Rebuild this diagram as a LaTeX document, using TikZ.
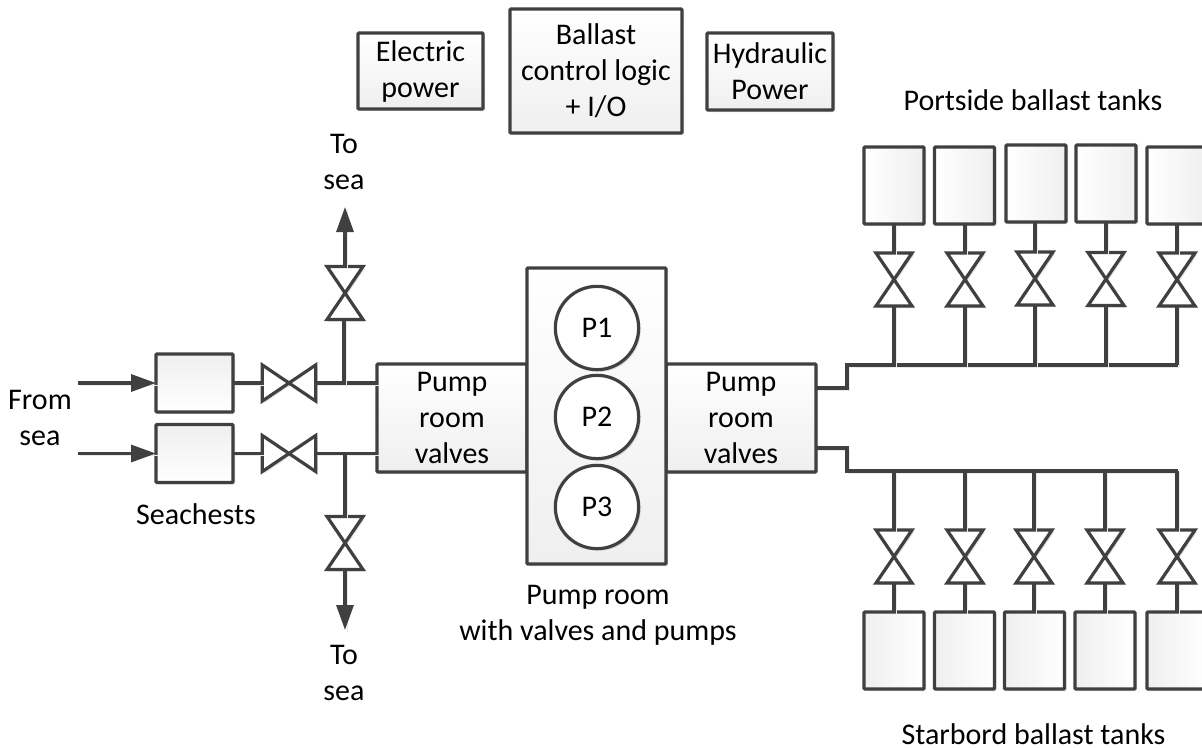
\documentclass[tikz,border=0pt]{standalone}
\usepackage{fontspec}
\setmainfont{Carlito}
\usetikzlibrary{arrows.meta,shadows}
\definecolor{ink}{HTML}{404040}
\definecolor{shade}{HTML}{EFEFEF}
\makeatletter
\pgfdeclareshape{vertvalve}{%
  \inheritsavedanchors[from=rectangle]
  \inheritanchorborder[from=rectangle]
  \inheritanchor[from=rectangle]{center}
  \inheritanchor[from=rectangle]{north}
  \inheritanchor[from=rectangle]{south}
  \inheritanchor[from=rectangle]{east}
  \inheritanchor[from=rectangle]{west}
  \backgroundpath{%
    \southwest\pgf@xa=\pgf@x\pgf@ya=\pgf@y
    \northeast\pgf@xb=\pgf@x\pgf@yb=\pgf@y
    \pgfpathmoveto{\pgfqpoint{\pgf@xa}{\pgf@ya}}%
    \pgfpathlineto{\pgfqpoint{\pgf@xb}{\pgf@ya}}%
    \pgfpathlineto{\pgfqpoint{\pgf@xa}{\pgf@yb}}%
    \pgfpathlineto{\pgfqpoint{\pgf@xb}{\pgf@yb}}%
    \pgfpathclose}}
\pgfdeclareshape{horizvalve}{%
  \inheritsavedanchors[from=rectangle]
  \inheritanchorborder[from=rectangle]
  \inheritanchor[from=rectangle]{center}
  \inheritanchor[from=rectangle]{north}
  \inheritanchor[from=rectangle]{south}
  \inheritanchor[from=rectangle]{east}
  \inheritanchor[from=rectangle]{west}
  \backgroundpath{%
    \southwest\pgf@xa=\pgf@x\pgf@ya=\pgf@y
    \northeast\pgf@xb=\pgf@x\pgf@yb=\pgf@y
    \pgfpathmoveto{\pgfqpoint{\pgf@xa}{\pgf@ya}}%
    \pgfpathlineto{\pgfqpoint{\pgf@xa}{\pgf@yb}}%
    \pgfpathlineto{\pgfqpoint{\pgf@xb}{\pgf@ya}}%
    \pgfpathlineto{\pgfqpoint{\pgf@xb}{\pgf@yb}}%
    \pgfpathclose}}
\makeatother
\tikzset{
  softshadow/.style={drop shadow={shadow xshift=1.5pt,shadow yshift=-1.5pt,opacity=.12,fill=black}},
  box/.style={draw=ink,line width=2.4pt,rounded corners=0.6pt,outer sep=0pt,inner sep=0pt,align=center,
    softshadow},
  ctrlbox/.style={box,top color=white,bottom color=shade},
  chest/.style={box,top color=shade,bottom color=white,minimum width=57.75pt,minimum height=43.5pt},
  porttank/.style={box,left color=white,right color=shade,minimum width=45pt,minimum height=57.75pt},
  starbtank/.style={box,left color=shade,right color=white,minimum width=45pt,minimum height=57.75pt},
  pumpcirc/.style={circle,draw=ink,line width=2.4pt,fill=white,outer sep=0pt,inner sep=0pt,minimum size=62.5pt,softshadow},
  valveV/.style={vertvalve,draw=ink,line width=2.4pt,fill=white,outer sep=0pt,inner sep=0pt,
    minimum width=27pt,minimum height=39.75pt,line join=miter,softshadow},
  valveH/.style={horizvalve,draw=ink,line width=2.4pt,fill=white,outer sep=0pt,inner sep=0pt,
    minimum width=40pt,minimum height=27pt,line join=miter,softshadow},
  label/.style={align=center,inner sep=0pt,text=black},
  pipe/.style={draw=ink,line width=2.4pt,line join=miter,
    preaction={draw=black!8,arrows=-,transform canvas={shift={(1.5pt,-1.5pt)}}}},
  flow/.style={pipe,-{Triangle[length=18.75pt,width=12.75pt]}},
}
\begin{document}
\begin{tikzpicture}[x=0.75pt,y=-0.75pt,font=\fontsize{22.5}{27}\selectfont]
\useasboundingbox (0,0) rectangle (1202,747);
\clip (0,0) rectangle (1202,747);
% Top boxes
\node[ctrlbox,minimum width=93.75pt,minimum height=57pt] (elec) at (420.5,71) {Electric\\power};
\node[ctrlbox,minimum width=129pt,minimum height=93pt] (logic) at (596,71) {Ballast\\control logic\\+ I/O};
\node[ctrlbox,minimum width=94.5pt,minimum height=57.75pt] (hyd) at (770,71.5) {Hydraulic\\Power};
% Labels
\node[label] (tosea1) at (344,162) {To\\sea};
\node[label] (tosea2) at (344,673) {To\\sea};
\node[label] (fromsea) at (40,418) {From\\sea};
\node[label] (chests) at (196,514) {Seachests};
\node[label] (port) at (1033,100) {Portside ballast tanks};
\node[label] (starb) at (1033.5,734) {Starbord ballast tanks};
\node[label] (proom) at (598,615) {Pump room\\with valves and pumps};
% Seachests and inlet valves
\node[chest] (s1) at (194.5,383) {};
\node[chest] (s2) at (194.5,453.5) {};
\node[valveH] (hv1) at (289,383) {};
\node[valveH] (hv2) at (289,453.5) {};
% Pump room
\node[ctrlbox,minimum width=112.5pt,minimum height=81pt] (plv) at (452,418) {Pump\\room\\valves};
\node[ctrlbox,minimum width=112.5pt,minimum height=81pt] (prv) at (741,418) {Pump\\room\\valves};
\node[ctrlbox,minimum width=104.25pt,minimum height=222pt] (room) at (596.5,416) {};
\node[pumpcirc] (p1) at (597,328) {P1};
\node[pumpcirc] (p2) at (597,417) {P2};
\node[pumpcirc] (p3) at (597,507) {P3};
% Sea branch valves
\node[valveV] (bv1) at (345,293) {};
\node[valveV] (bv2) at (345,543) {};
\coordinate (fs1) at (78,383);
\coordinate (fs2) at (78,453.5);
\coordinate (tip1) at (345,207);
\coordinate (tip2) at (345,630);
\coordinate (j1) at (344,383);
\coordinate (j2) at (345,453.5);
\draw[flow] (fs1) -- (s1.west);
\draw[flow] (fs2) -- (s2.west);
\draw[pipe] (s1.east) -- (hv1.west);
\draw[pipe] (s2.east) -- (hv2.west);
\draw[pipe] (hv1.east) -- (hv1.east -| plv.west);
\draw[pipe] (hv2.east) -- (hv2.east -| plv.west);
\draw[pipe] (j1) -- (j1 |- bv1.south);
\draw[pipe] (j2) -- (j2 |- bv2.north);
\draw[flow] (bv1.north) -- (tip1);
\draw[flow] (bv2.south) -- (tip2);
% Tanks and valves
\foreach \i/\tx/\ty/\vx/\vy in {1/894/185.5/894/279.5,2/964.5/185.5/965/279.5,3/1036/183.5/1035/278.5,4/1106/183.5/1106/279,5/1177/185.5/1177/279.5}{
  \node[porttank] (pt\i) at (\tx,\ty) {};
  \node[valveV] (pv\i) at (\vx,\vy) {};
}
\foreach \i/\tx/\vx in {1/894/894,2/964.5/965,3/1034.5/1034,4/1105/1105,5/1177/1177}{
  \node[starbtank] (st\i) at (\tx,650.5) {};
  \node[valveV] (sv\i) at (\vx,556.5) {};
}
% Ballast mains
\coordinate (po1) at (847,388);
\coordinate (pbus) at (847,365);
\coordinate (pend) at (1178,365);
\coordinate (so1) at (847,448);
\coordinate (sbus) at (847,471);
\coordinate (send) at (1178,471);
\draw[pipe] (po1 -| prv.east) -- (po1) -- (pbus) -- (pend);
\draw[pipe] (so1 -| prv.east) -- (so1) -- (sbus) -- (send);
\foreach \i in {1,...,5}{
  \draw[pipe] (pv\i.north) -- (pv\i.north |- pt\i.south);
  \draw[pipe] (pv\i.south) -- (pv\i.south |- pbus);
  \draw[pipe] (sv\i.south) -- (sv\i.south |- st\i.north);
  \draw[pipe] (sv\i.north) -- (sv\i.north |- sbus);
}
\end{tikzpicture}
\end{document}
